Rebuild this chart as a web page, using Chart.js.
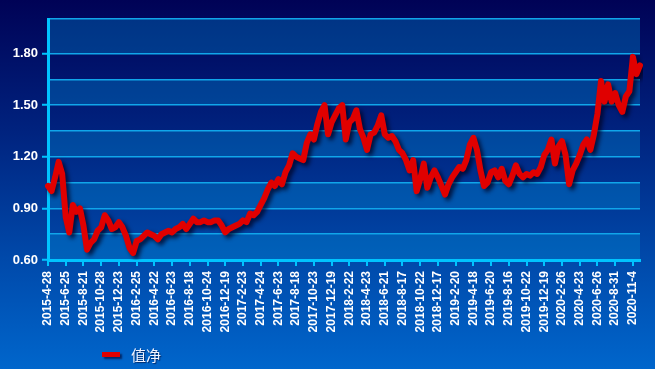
<!DOCTYPE html>
<html>
<head>
<meta charset="utf-8">
<script src="https://cdn.jsdelivr.net/npm/chart.js@4/dist/chart.umd.min.js"></script>
<style>
  html, body { margin: 0; padding: 0; }
  body {
    width: 655px; height: 369px; overflow: hidden; position: relative;
    background: linear-gradient(to bottom, #000256 0%, #00227e 35%, #0049aa 70%, #0066cc 100%);
  }
  #wrap { position: absolute; left: 0; top: 0; width: 655px; height: 369px; }
  #legend {
    position: absolute; left: 102px; top: 343px; height: 22px;
    display: flex; align-items: center;
    font-family: "Noto Sans CJK SC", sans-serif; font-size: 15px; color: #f2f4ff;
    text-shadow: 1px 1px 1px rgba(0,0,40,0.6);
  }
  #legend .bar {
    width: 18px; height: 5px; background: #e00000; margin-right: 11px;
    box-shadow: 2px 2px 2px rgba(0,0,40,0.6);
  }
</style>
</head>
<body>
<div id="wrap"><canvas id="chart"></canvas></div>
<div id="legend"><span class="bar"></span><span>值净</span></div>
<script>
// Tick dates shown on the x axis (one every 5 points)
const dates = [
  "2015-4-28", "2015-6-25", "2015-8-21", "2015-10-28", "2015-12-23",
  "2016-2-25", "2016-4-22", "2016-6-23", "2016-8-18", "2016-10-24",
  "2016-12-19", "2017-2-23", "2017-4-24", "2017-6-23", "2017-8-18",
  "2017-10-23", "2017-12-19", "2018-2-22", "2018-4-23", "2018-6-21",
  "2018-8-17", "2018-10-22", "2018-12-17", "2019-2-20", "2019-4-18",
  "2019-6-20", "2019-8-16", "2019-10-22", "2019-12-19", "2020-2-26",
  "2020-4-23", "2020-6-26", "2020-8-31", "2020-11-4"
];
const perTick = 5;

// Net value series
const nav = [
  1.03, 1.00, 1.08, 1.17, 1.10, 0.85, 0.76, 0.92, 0.88, 0.90,
  0.80, 0.66, 0.70, 0.72, 0.77, 0.79, 0.86, 0.83, 0.78, 0.79,
  0.82, 0.79, 0.74, 0.67, 0.64, 0.71, 0.72, 0.74, 0.76, 0.75,
  0.74, 0.72, 0.75, 0.76, 0.77, 0.76, 0.78, 0.79, 0.81, 0.78,
  0.81, 0.84, 0.82, 0.82, 0.83, 0.82, 0.82, 0.83, 0.83, 0.80,
  0.76, 0.78, 0.79, 0.80, 0.81, 0.83, 0.82, 0.87, 0.86, 0.88,
  0.92, 0.96, 1.01, 1.05, 1.03, 1.07, 1.04, 1.11, 1.15, 1.22,
  1.20, 1.19, 1.18, 1.28, 1.33, 1.30, 1.39, 1.46, 1.50, 1.33,
  1.40, 1.44, 1.48, 1.50, 1.30, 1.40, 1.42, 1.47, 1.36, 1.31,
  1.24, 1.33, 1.34, 1.38, 1.44, 1.33, 1.31, 1.32, 1.29, 1.24,
  1.22, 1.18, 1.12, 1.18, 1.00, 1.07, 1.16, 1.02, 1.08, 1.12,
  1.08, 1.03, 0.98, 1.04, 1.08, 1.11, 1.14, 1.13, 1.18, 1.27,
  1.31, 1.24, 1.12, 1.03, 1.05, 1.11, 1.12, 1.08, 1.13, 1.06,
  1.04, 1.09, 1.15, 1.10, 1.08, 1.10, 1.09, 1.11, 1.10, 1.14,
  1.21, 1.24, 1.30, 1.16, 1.26, 1.29, 1.21, 1.04, 1.12, 1.16,
  1.21, 1.27, 1.30, 1.24, 1.33, 1.45, 1.64, 1.52, 1.62, 1.52,
  1.57, 1.50, 1.46, 1.55, 1.58, 1.78, 1.68, 1.73
];

// y gridlines every 0.15, labels every 0.30
const yGrid = [0.60, 0.75, 0.90, 1.05, 1.20, 1.35, 1.50, 1.65, 1.80, 2.00];
const yLabels = [0.60, 0.90, 1.20, 1.50, 1.80];

const labels = nav.map((v, i) => i % perTick === 0 ? (dates[i / perTick] || "") : "");
const isYLabel = v => yLabels.some(l => Math.abs(l - v) < 1e-6);

const cyan = "#00c4ff";
const gridCyan = "#10a6ea";
const font = { family: "'Liberation Sans', Arial, sans-serif", size: 12, weight: "bold" };

// alternating plot bands
const bandPlugin = {
  id: "bands",
  beforeDraw(chart) {
    const { ctx, chartArea: a, scales: { y } } = chart;
    ctx.save();
    for (let k = 0; k < yGrid.length - 1; k++) {
      if (k % 2 === 0) {
        const y0 = y.getPixelForValue(yGrid[k]);
        const y1 = y.getPixelForValue(yGrid[k + 1]);
        ctx.fillStyle = "rgba(0,150,220,0.32)";
        ctx.fillRect(a.left, y1, a.right - a.left, y0 - y1);
      }
    }
    ctx.restore();
  }
};

// drop shadow under the line
const shadowPlugin = {
  id: "lineShadow",
  beforeDatasetDraw(chart) {
    const ctx = chart.ctx;
    ctx.save();
    ctx.shadowColor = "rgba(0,0,30,0.75)";
    ctx.shadowBlur = 4;
    ctx.shadowOffsetX = 3;
    ctx.shadowOffsetY = 3;
  },
  afterDatasetDraw(chart) {
    chart.ctx.restore();
  }
};

new Chart(document.getElementById("chart"), {
  type: "line",
  data: {
    labels: labels,
    datasets: [{
      label: "值净",
      data: nav,
      borderColor: "#e00000",
      borderWidth: 6,
      borderJoinStyle: "round",
      borderCapStyle: "round",
      pointRadius: 0,
      tension: 0,
      fill: false
    }]
  },
  options: {
    responsive: true,
    maintainAspectRatio: false,
    animation: false,
    layout: { padding: { left: 0, right: 15, top: 19, bottom: 0 } },
    plugins: { legend: { display: false }, tooltip: { enabled: false } },
    scales: {
      x: {
        type: "category",
        offset: false,
        afterBuildTicks: s => { s.ticks = s.ticks.filter(t => t.value % perTick === 0); },
        afterFit: s => { s.height = 109; },
        grid: { drawOnChartArea: false, drawTicks: true, tickLength: 6, color: cyan, lineWidth: 2 },
        border: { color: cyan, width: 3 },
        ticks: {
          autoSkip: false, maxRotation: 90, minRotation: 90, padding: 5,
          color: "#ffffff", font: font,
          callback: function (v) { return this.getLabelForValue(v); }
        }
      },
      y: {
        min: 0.6, max: 2.0,
        afterBuildTicks: s => { s.ticks = yGrid.map(v => ({ value: v })); },
        afterFit: s => { s.width = 48; },
        grid: {
          color: gridCyan, lineWidth: 1.5, tickLength: 6,
          tickColor: c => isYLabel(c.tick.value) ? cyan : "rgba(0,0,0,0)",
          tickWidth: 2
        },
        border: { color: cyan, width: 3 },
        ticks: {
          padding: 4, color: "#ffffff", font: { ...font, size: 13 },
          callback: v => isYLabel(v) ? v.toFixed(2) : ""
        }
      }
    }
  },
  plugins: [bandPlugin, shadowPlugin]
});
</script>
</body>
</html>
